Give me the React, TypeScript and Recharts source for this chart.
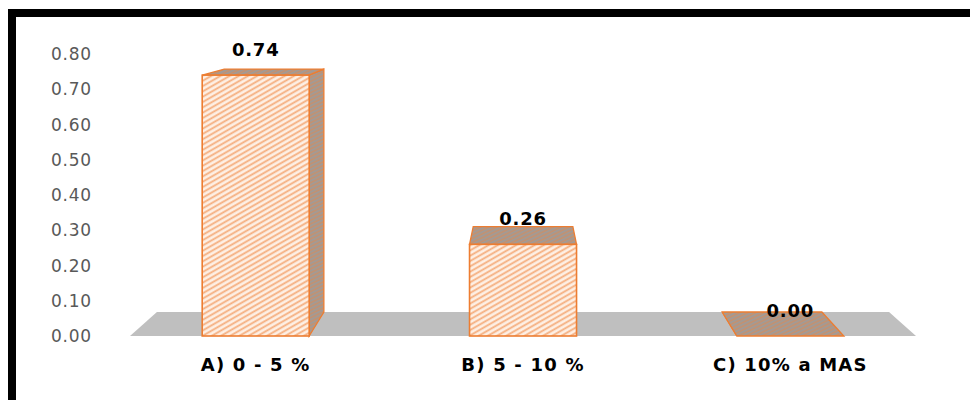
import { BarChart, Bar, XAxis, YAxis, ReferenceArea, LabelList } from "recharts";

const categories = ["A) 0 - 5 %", "B) 5 - 10 %", "C) 10% a MAS"];
const shares = [0.74, 0.26, 0.0];
const yTicks = [0, 0.1, 0.2, 0.3, 0.4, 0.5, 0.6, 0.7, 0.8];

const data = categories.map((name, i) => ({ name, value: shares[i] }));

// fake 3d: everything recedes toward one vanishing point above the plot
const VP_X = 523;
const VP_Y = -14;
const DEPTH = 0.0686;
const back = (x: number, y: number): [number, number] => [
  x + DEPTH * (VP_X - x),
  y + DEPTH * (VP_Y - y),
];
const pts = (list: [number, number][]) => list.map((p) => p.join(",")).join(" ");

const ORANGE = "#ED7D31";
const FONT = "'DejaVu Sans', sans-serif";

const Floor = (props: any) => {
  const { x, y, width, height } = props;
  const bottom = y + height;
  const fl: [number, number] = [x + 8, bottom];
  const fr: [number, number] = [x + width - 8, bottom];
  return <polygon points={pts([fl, fr, back(...fr), back(...fl)])} fill="#BFBFBF" />;
};

const Box = (props: any) => {
  const { x, y, width, height, index } = props;
  const w = width;
  const h = Math.max(height, 0);
  const id = `b${index}`;
  const tl: [number, number] = [x, y];
  const tr: [number, number] = [x + w, y];
  const br: [number, number] = [x + w, y + h];
  const bl: [number, number] = [x, y + h];
  const btl = back(...tl);
  const btr = back(...tr);
  return (
    <g>
      <defs>
        <pattern id={`front-${id}`} patternUnits="userSpaceOnUse" width="10" height="4.6" patternTransform="rotate(-30)">
          <rect width="10" height="4.6" fill="#FEF0E5" />
          <line x1="0" y1="1.2" x2="10" y2="1.2" stroke="#F5AE7E" strokeWidth="1.8" />
        </pattern>
        <pattern id={`dark-${id}`} patternUnits="userSpaceOnUse" width="8" height="3.4" patternTransform="rotate(-25)">
          <rect width="8" height="3.4" fill="#A39A94" />
          <line x1="0" y1="1" x2="8" y2="1" stroke="#CF8E63" strokeWidth="1.1" />
        </pattern>
      </defs>
      {btr[0] > tr[0] && (
        <polygon points={pts([tr, btr, back(...br), br])} fill={`url(#dark-${id})`} stroke={ORANGE} strokeWidth={1.3} />
      )}
      {btl[0] < tl[0] && (
        <polygon points={pts([tl, btl, back(...bl), bl])} fill={`url(#dark-${id})`} stroke={ORANGE} strokeWidth={1.3} />
      )}
      <polygon points={pts([tl, tr, btr, btl])} fill={`url(#dark-${id})`} stroke={ORANGE} strokeWidth={1.3} />
      {h > 0 && <rect x={x} y={y} width={w} height={h} fill={`url(#front-${id})`} stroke={ORANGE} strokeWidth={1.6} />}
    </g>
  );
};

const ValueLabel = (props: any) => {
  const { x, y, width, value } = props;
  return (
    <text
      x={x + width / 2}
      y={y - 19}
      textAnchor="middle"
      fontFamily={FONT}
      fontWeight={700}
      fontSize={18}
      letterSpacing={0.8}
      fill="#000"
    >
      {Number(value).toFixed(2)}
    </text>
  );
};

const App = () => {
  return (
    <div style={{ position: "absolute", left: 0, top: 0, width: 970, height: 400, background: "#fff", overflow: "hidden" }}>
      <div style={{ position: "absolute", left: 8, top: 9, width: 962, height: 8, background: "#000" }} />
      <div style={{ position: "absolute", left: 8, top: 9, width: 8, height: 391, background: "#000" }} />
      <BarChart
        width={970}
        height={400}
        data={data}
        margin={{ top: 54, right: 46, bottom: 0, left: 0 }}
        barCategoryGap="30%"
      >
        <XAxis
          dataKey="name"
          height={64}
          axisLine={false}
          tickLine={false}
          tickMargin={16}
          tick={{ fill: "#000", fontSize: 18, fontWeight: 700, fontFamily: FONT, letterSpacing: 1.2 }}
        />
        <YAxis
          width={122}
          domain={[0, 0.8]}
          ticks={yTicks}
          axisLine={false}
          tickLine={false}
          tickMargin={24}
          tickFormatter={(v: number) => v.toFixed(2)}
          tick={{ fill: "#595959", fontSize: 17, fontFamily: FONT, letterSpacing: 0.8 }}
        />
        <ReferenceArea y1={0} y2={0.8} shape={<Floor />} ifOverflow="visible" />
        <Bar dataKey="value" shape={<Box />} isAnimationActive={false}>
          <LabelList dataKey="value" content={<ValueLabel />} />
        </Bar>
      </BarChart>
    </div>
  );
};

export default App;
